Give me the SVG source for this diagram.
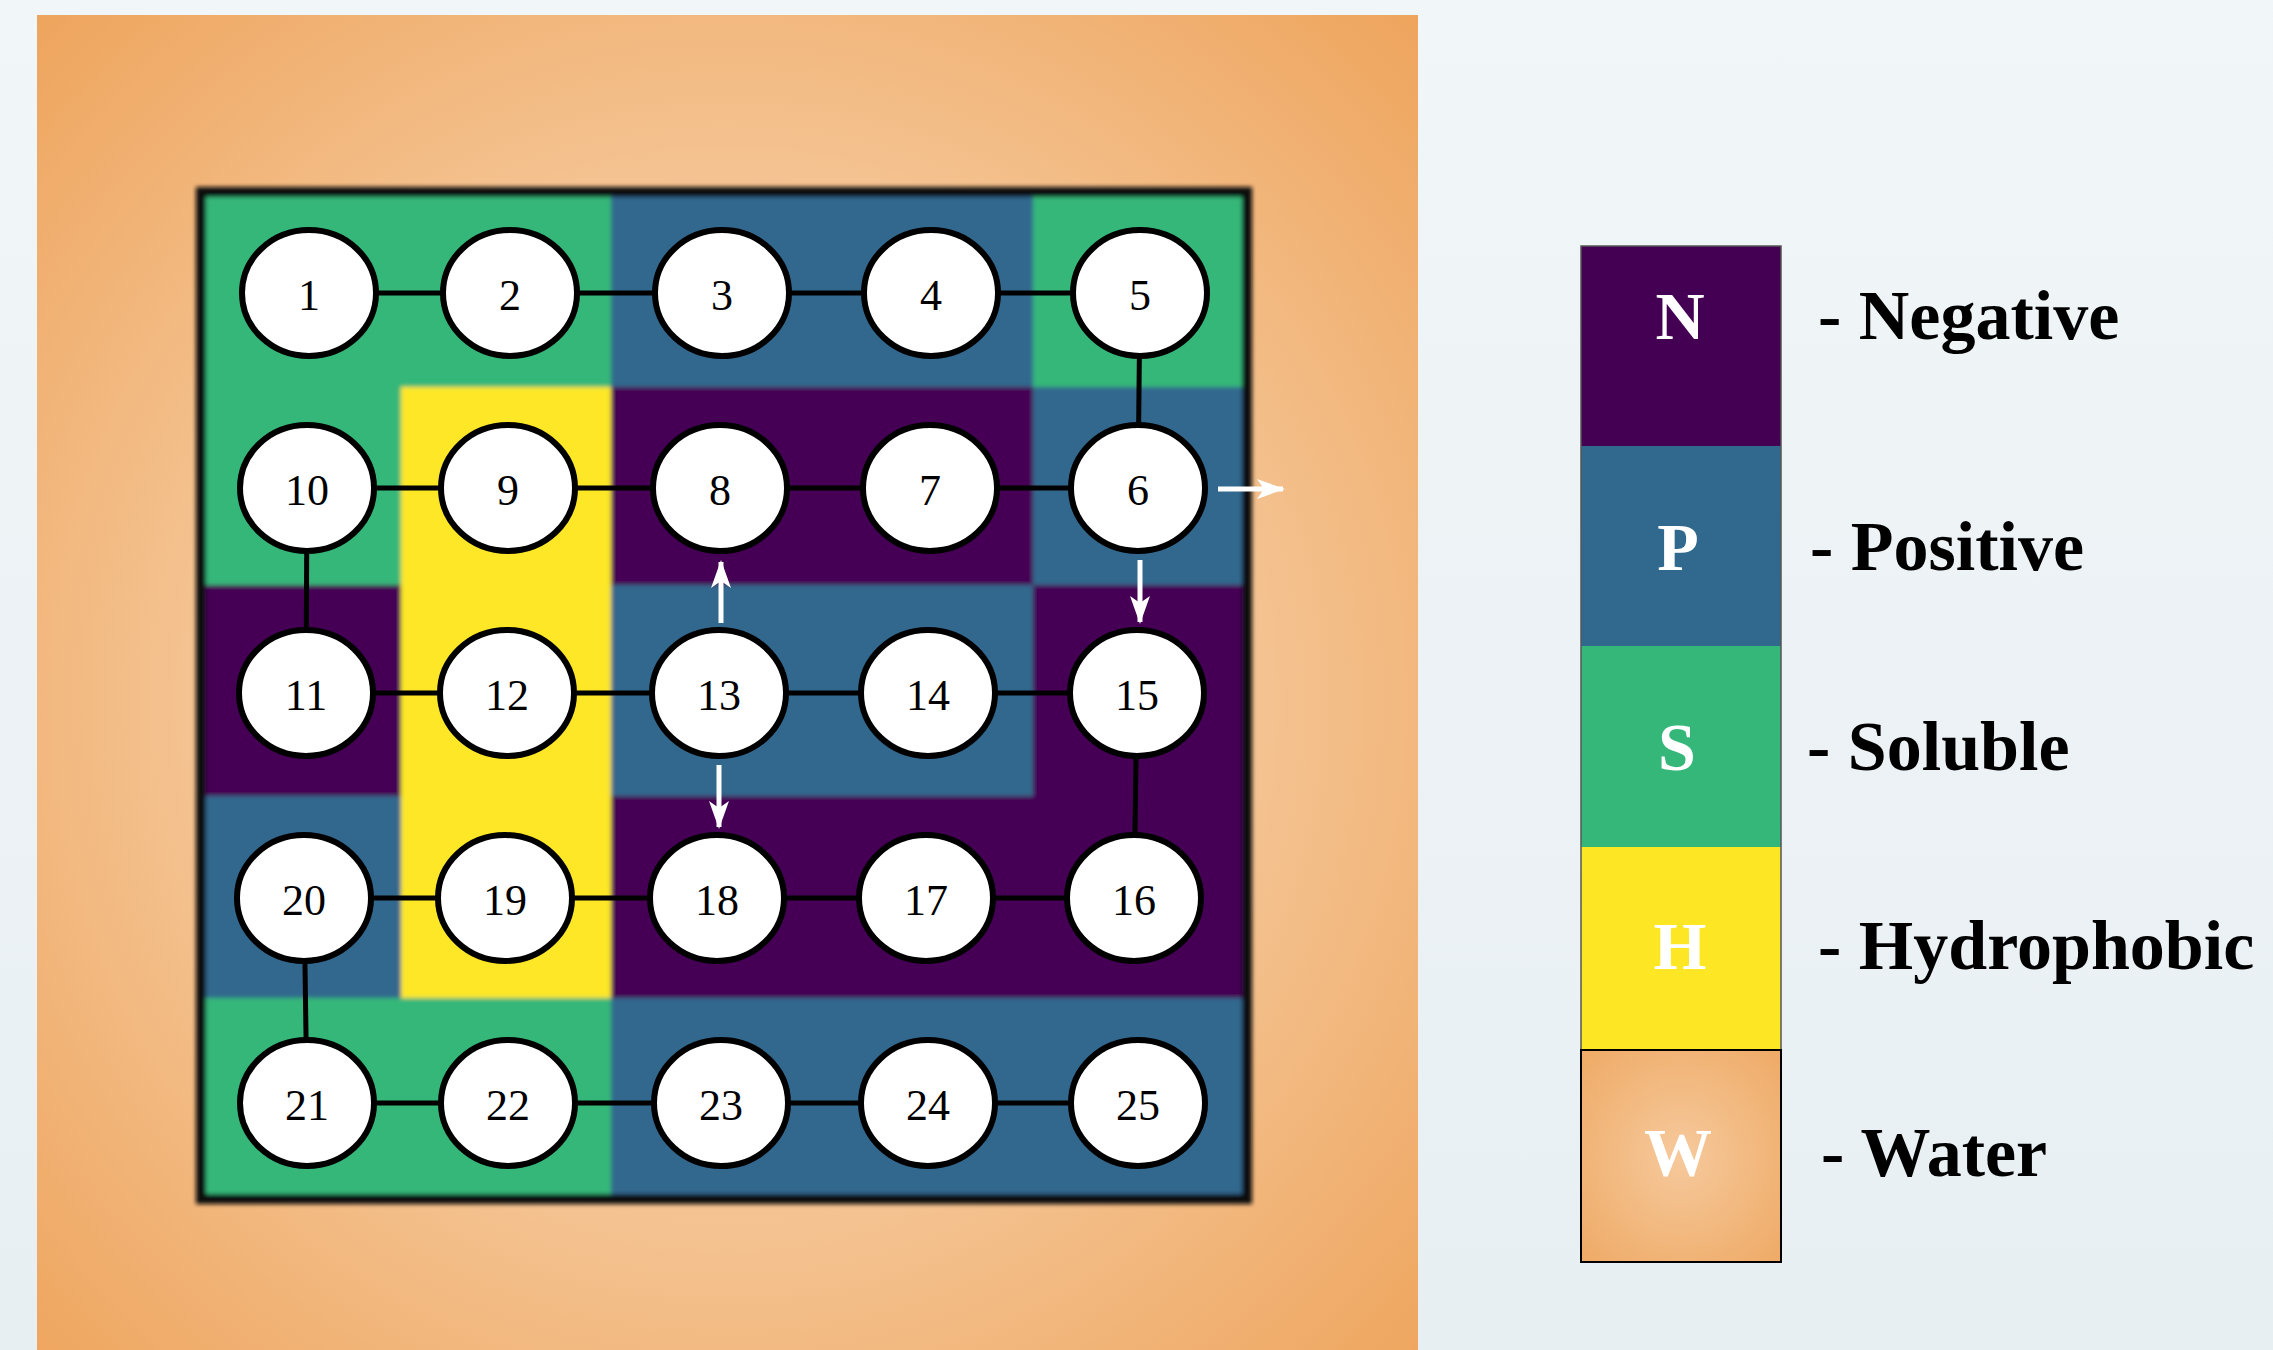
<svg xmlns="http://www.w3.org/2000/svg" width="2273" height="1350" viewBox="0 0 2273 1350">
<style>
.node ellipse{fill:#ffffff;stroke:#000000;stroke-width:6}
.node text{font-family:"Liberation Serif",serif;font-size:44px;fill:#000;text-anchor:middle}
.edge{stroke:#000;stroke-width:5;fill:none}
.arrow{stroke:#fff;stroke-width:5;fill:none;marker-end:url(#wh)}
.lg{font-family:"Liberation Serif",serif;font-weight:bold;font-size:70px;fill:#000}
.lt{font-family:"Liberation Serif",serif;font-weight:bold;font-size:68px;fill:#fff;text-anchor:middle}
</style>
<defs>
<linearGradient id="bg" x1="0" y1="0" x2="0" y2="1">
<stop offset="0" stop-color="#f1f6f8"/>
<stop offset="1" stop-color="#e8eff2"/>
</linearGradient>
<radialGradient id="water" gradientUnits="userSpaceOnUse" cx="727" cy="700" r="980">
<stop offset="0" stop-color="#f7cda0"/>
<stop offset="0.55" stop-color="#f4c290"/>
<stop offset="1" stop-color="#eea45c"/>
</radialGradient>
<radialGradient id="waterL" cx="0.5" cy="0.5" r="0.75">
<stop offset="0" stop-color="#f6c99c"/>
<stop offset="1" stop-color="#eea862"/>
</radialGradient>
<filter id="blur" x="-5%" y="-5%" width="110%" height="110%"><feGaussianBlur stdDeviation="2"/></filter>
<marker id="wh" viewBox="0 0 28 22" refX="26" refY="11" markerWidth="28" markerHeight="22" markerUnits="userSpaceOnUse" orient="auto">
<path d="M0,1 L28,11 L0,21 L7,11 z" fill="#ffffff"/>
</marker>
</defs>
<rect x="0" y="0" width="2273" height="1350" fill="url(#bg)"/>
<rect x="37" y="15" width="1381" height="1335" fill="url(#water)"/>

<g id="grid" filter="url(#blur)">
<rect x="203" y="195" width="1042" height="1000" fill="#35b779"/>
<rect x="611" y="195" width="422" height="192" fill="#31688e"/>
<rect x="401" y="387" width="210" height="611" fill="#fde725"/>
<rect x="611" y="387" width="422" height="198" fill="#440154"/>
<rect x="1033" y="387" width="212" height="198" fill="#31688e"/>
<rect x="203" y="585" width="198" height="211" fill="#440154"/>
<rect x="611" y="585" width="422" height="211" fill="#31688e"/>
<rect x="1033" y="585" width="212" height="211" fill="#440154"/>
<rect x="203" y="796" width="198" height="202" fill="#31688e"/>
<rect x="611" y="796" width="634" height="202" fill="#440154"/>
<rect x="611" y="998" width="634" height="197" fill="#31688e"/>
<rect x="201" y="192" width="1046" height="1007" fill="none" stroke="#111111" stroke-width="10"/>
</g>

<g id="connectors">
<line class="edge" x1="309" y1="293" x2="510" y2="293"/>
<line class="edge" x1="510" y1="293" x2="722" y2="293"/>
<line class="edge" x1="722" y1="293" x2="931" y2="293"/>
<line class="edge" x1="931" y1="293" x2="1140" y2="293"/>
<line class="edge" x1="1140" y1="293" x2="1138" y2="488"/>
<line class="edge" x1="1138" y1="488" x2="930" y2="488"/>
<line class="edge" x1="930" y1="488" x2="720" y2="488"/>
<line class="edge" x1="720" y1="488" x2="508" y2="488"/>
<line class="edge" x1="508" y1="488" x2="307" y2="488"/>
<line class="edge" x1="307" y1="488" x2="306" y2="693"/>
<line class="edge" x1="306" y1="693" x2="507" y2="693"/>
<line class="edge" x1="507" y1="693" x2="719" y2="693"/>
<line class="edge" x1="719" y1="693" x2="928" y2="693"/>
<line class="edge" x1="928" y1="693" x2="1137" y2="693"/>
<line class="edge" x1="1137" y1="693" x2="1134" y2="898"/>
<line class="edge" x1="1134" y1="898" x2="926" y2="898"/>
<line class="edge" x1="926" y1="898" x2="717" y2="898"/>
<line class="edge" x1="717" y1="898" x2="505" y2="898"/>
<line class="edge" x1="505" y1="898" x2="304" y2="898"/>
<line class="edge" x1="304" y1="898" x2="307" y2="1103"/>
<line class="edge" x1="307" y1="1103" x2="508" y2="1103"/>
<line class="edge" x1="508" y1="1103" x2="721" y2="1103"/>
<line class="edge" x1="721" y1="1103" x2="928" y2="1103"/>
<line class="edge" x1="928" y1="1103" x2="1138" y2="1103"/>
<line class="arrow" x1="721" y1="623" x2="721" y2="562"/>
<line class="arrow" x1="1140" y1="560" x2="1140" y2="622"/>
<line class="arrow" x1="1218" y1="489" x2="1283" y2="489"/>
<line class="arrow" x1="719" y1="765" x2="719" y2="827"/>
</g>

<g id="n1" class="node"><ellipse cx="309" cy="293" rx="67" ry="63"/><text x="309" y="310">1</text></g>
<g id="n2" class="node"><ellipse cx="510" cy="293" rx="67" ry="63"/><text x="510" y="310">2</text></g>
<g id="n3" class="node"><ellipse cx="722" cy="293" rx="67" ry="63"/><text x="722" y="310">3</text></g>
<g id="n4" class="node"><ellipse cx="931" cy="293" rx="67" ry="63"/><text x="931" y="310">4</text></g>
<g id="n5" class="node"><ellipse cx="1140" cy="293" rx="67" ry="63"/><text x="1140" y="310">5</text></g>
<g id="n6" class="node"><ellipse cx="1138" cy="488" rx="67" ry="63"/><text x="1138" y="505">6</text></g>
<g id="n7" class="node"><ellipse cx="930" cy="488" rx="67" ry="63"/><text x="930" y="505">7</text></g>
<g id="n8" class="node"><ellipse cx="720" cy="488" rx="67" ry="63"/><text x="720" y="505">8</text></g>
<g id="n9" class="node"><ellipse cx="508" cy="488" rx="67" ry="63"/><text x="508" y="505">9</text></g>
<g id="n10" class="node"><ellipse cx="307" cy="488" rx="67" ry="63"/><text x="307" y="505">10</text></g>
<g id="n11" class="node"><ellipse cx="306" cy="693" rx="67" ry="63"/><text x="306" y="710">11</text></g>
<g id="n12" class="node"><ellipse cx="507" cy="693" rx="67" ry="63"/><text x="507" y="710">12</text></g>
<g id="n13" class="node"><ellipse cx="719" cy="693" rx="67" ry="63"/><text x="719" y="710">13</text></g>
<g id="n14" class="node"><ellipse cx="928" cy="693" rx="67" ry="63"/><text x="928" y="710">14</text></g>
<g id="n15" class="node"><ellipse cx="1137" cy="693" rx="67" ry="63"/><text x="1137" y="710">15</text></g>
<g id="n16" class="node"><ellipse cx="1134" cy="898" rx="67" ry="63"/><text x="1134" y="915">16</text></g>
<g id="n17" class="node"><ellipse cx="926" cy="898" rx="67" ry="63"/><text x="926" y="915">17</text></g>
<g id="n18" class="node"><ellipse cx="717" cy="898" rx="67" ry="63"/><text x="717" y="915">18</text></g>
<g id="n19" class="node"><ellipse cx="505" cy="898" rx="67" ry="63"/><text x="505" y="915">19</text></g>
<g id="n20" class="node"><ellipse cx="304" cy="898" rx="67" ry="63"/><text x="304" y="915">20</text></g>
<g id="n21" class="node"><ellipse cx="307" cy="1103" rx="67" ry="63"/><text x="307" y="1120">21</text></g>
<g id="n22" class="node"><ellipse cx="508" cy="1103" rx="67" ry="63"/><text x="508" y="1120">22</text></g>
<g id="n23" class="node"><ellipse cx="721" cy="1103" rx="67" ry="63"/><text x="721" y="1120">23</text></g>
<g id="n24" class="node"><ellipse cx="928" cy="1103" rx="67" ry="63"/><text x="928" y="1120">24</text></g>
<g id="n25" class="node"><ellipse cx="1138" cy="1103" rx="67" ry="63"/><text x="1138" y="1120">25</text></g>

<g id="legend">
<rect x="1581" y="246" width="200" height="200" fill="#440154"/>
<rect x="1581" y="446" width="200" height="200" fill="#31688e"/>
<rect x="1581" y="646" width="200" height="201" fill="#35b779"/>
<rect x="1581" y="847" width="200" height="203" fill="#fde725"/>
<rect x="1581" y="246" width="200" height="804" fill="none" stroke="#555555" stroke-width="1.5"/>
<rect x="1581" y="1050" width="200" height="212" fill="url(#waterL)" stroke="#000000" stroke-width="2"/>
<text class="lt" x="1680" y="339">N</text>
<text class="lt" x="1678" y="570">P</text>
<text class="lt" x="1677" y="770">S</text>
<text class="lt" x="1680" y="969">H</text>
<text class="lt" x="1678" y="1175">W</text>
<text class="lg" x="1818" y="339">- Negative</text>
<text class="lg" x="1810" y="570">- Positive</text>
<text class="lg" x="1807" y="770">- Soluble</text>
<text class="lg" x="1818" y="969">- Hydrophobic</text>
<text class="lg" x="1821" y="1176">- Water</text>
</g>
</svg>
